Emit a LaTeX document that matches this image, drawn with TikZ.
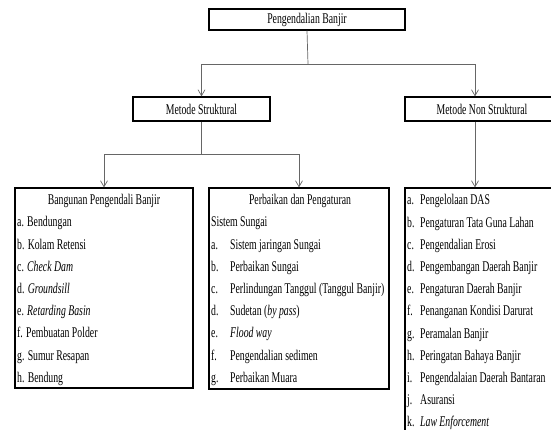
\documentclass[tikz,border=0pt]{standalone}
\usepackage{fontspec}
\setmainfont[FakeStretch=0.66]{Liberation Serif}
\usetikzlibrary{arrows.meta}

\begin{document}
\begin{tikzpicture}[x=1pt, y=-1pt,
	box/.style={rectangle, draw=black, line width=1.2pt, inner sep=0pt},
	txt/.style={font=\fontsize{14.8pt}{22.2pt}\selectfont, inner sep=0pt},
	link/.style={draw=black!60, line width=0.7pt},
	tip/.style={link, -{Straight Barb[length=6pt, width=7pt]}}]
	\clip (0,0) rectangle (551,430);
	% levels
	\node[box, txt, minimum width=196pt, minimum height=21pt] (banjir) at (307,19.5) {Pengendalian Banjir};
	\node[box, txt, minimum width=137pt, minimum height=24pt] (struktural) at (201.5,109) {Metode Struktural};
	\node[box, txt, minimum width=154pt, minimum height=24pt] (nonstruktural) at (482,109) {Metode Non Struktural};
	\node[box, minimum width=178pt, minimum height=200pt] (bangunan) at (104,288) {};
	\node[box, minimum width=180pt, minimum height=201pt] (perbaikan) at (299,288.5) {};
	\node[box, minimum width=195pt, minimum height=272pt] (nonlist) at (502.5,324) {};
	% texts in the boxes
	\node[txt, anchor=base] (bangunantitle) at (104,205) {Bangunan Pengendali Banjir};
	\node[txt, anchor=base west] (bangunanitems) at (17,227) {\begin{tabular}[t]{@{}l@{}}
		a. Bendungan\\ b. Kolam Retensi\\ c. \textit{Check Dam}\\ d. \textit{Groundsill}\\
		e. \textit{Retarding Basin}\\ f. Pembuatan Polder\\ g. Sumur Resapan\\ h. Bendung
	\end{tabular}};
	\node[txt, anchor=base] (perbaikantitle) at (300,205) {Perbaikan dan Pengaturan};
	\node[txt, anchor=base west] (perbaikanitems) at (211,227) {\begin{tabular}[t]{@{}p{19pt}@{}l@{}}
		\multicolumn{2}{@{}l@{}}{Sistem Sungai}\\
		a. & Sistem jaringan Sungai\\ b. & Perbaikan Sungai\\
		c. & Perlindungan Tanggul (Tanggul Banjir)\\ d. & Sudetan (\textit{by pass})\\
		e. & \textit{Flood way}\\ f. & Pengendalian sedimen\\ g. & Perbaikan Muara
	\end{tabular}};
	\node[txt, anchor=base west] (nonitems) at (407,205) {\begin{tabular}[t]{@{}p{13pt}@{}l@{}}
		a. & Pengelolaan DAS\\ b. & Pengaturan Tata Guna Lahan\\ c. & Pengendalian Erosi\\
		d. & Pengembangan Daerah Banjir\\ e. & Pengaturan Daerah Banjir\\
		f. & Penanganan Kondisi Darurat\\ g. & Peramalan Banjir\\
		h. & Peringatan Bahaya Banjir\\ i. & Pengendalaian Daerah Bantaran\\
		j. & Asuransi\\ k. & \textit{Law Enforcement}
	\end{tabular}};
	% connectors
	\coordinate (split1) at (308,64);
	\coordinate (split2) at (201.5,154);
	\draw[link] (banjir.south) -- (split1);
	\draw[tip] (split1) -| (struktural.north);
	\draw[tip] (split1) -| ([xshift=-7pt]nonstruktural.north);
	\draw[link] (struktural.south) -- (split2);
	\draw[tip] (split2) -| (bangunan.north);
	\draw[tip] (split2) -| (perbaikan.north);
	\draw[tip] ([xshift=-7pt]nonstruktural.south) -- ([xshift=-7pt]nonstruktural.south |- nonlist.north);
\end{tikzpicture}
\end{document}
